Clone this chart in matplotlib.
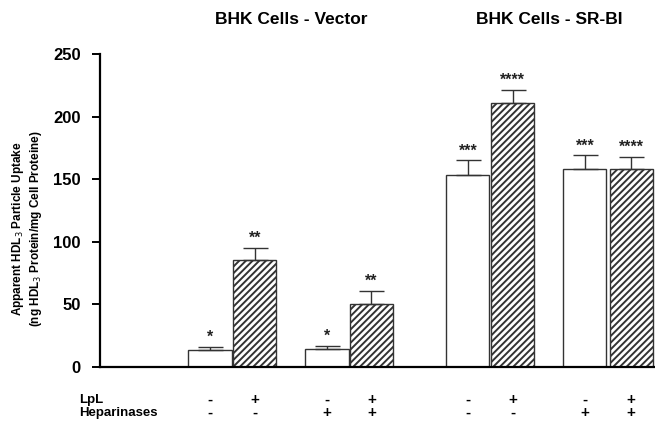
import matplotlib
matplotlib.use("Agg")
import matplotlib.pyplot as plt

plt.rcParams["font.family"] = ["Liberation Sans", "DejaVu Sans"]
plt.rcParams["hatch.linewidth"] = 1.4

# data
values = [13.5, 85.5, 14, 50, 153, 210.5, 158, 158]
errors = [2.5, 9.5, 3, 11, 12, 11, 11, 10]
stars = ["*", "**", "*", "**", "***", "****", "***", "****"]
lpl = ["-", "+", "-", "+", "-", "+", "-", "+"]
heparinases = ["-", "-", "+", "+", "-", "-", "+", "+"]
groups = ["BHK Cells - Vector", "BHK Cells - SR-BI"]

# layout
centers = [2.5, 3.52, 5.16, 6.17, 8.36, 9.38, 11.02, 12.07]
hatched = [False, True, False, True, False, True, False, True]

fig = plt.figure(figsize=(6.55, 4.25), dpi=100)
ax = fig.add_axes([100 / 655, 58 / 425, 555 / 655, 313 / 425])
ax.set_xlim(0, 555 / 44)
ax.set_ylim(0, 250)

for x, v, e, h, s in zip(centers, values, errors, hatched, stars):
    ax.bar(x, v, width=0.98, facecolor="white", edgecolor="#333333",
           linewidth=1.0, hatch="/////" if h else None, zorder=2)
    ax.errorbar(x, v, yerr=[[0], [e]], fmt="none", ecolor="#333333",
                elinewidth=1.0, capsize=9, capthick=1.0, zorder=3)
    ax.text(x, v + e + 1.5, s, ha="center", va="bottom", fontsize=11.5,
            fontweight="bold", color="#222222")

ax.spines["top"].set_visible(False)
ax.spines["right"].set_visible(False)
ax.spines["left"].set_linewidth(1.6)
ax.spines["bottom"].set_linewidth(1.6)
ax.set_xticks([])
ax.set_yticks([0, 50, 100, 150, 200, 250])
ax.tick_params(axis="y", direction="out", length=6, width=1.4, pad=8,
               labelsize=12)
for lab in ax.get_yticklabels():
    lab.set_fontweight("bold")

fig.text(27 / 655, 1 - 229 / 425,
         "Apparent HDL$_3$ Particle Uptake\n(ng HDL$_3$ Protein/mg Cell Proteine)",
         rotation=90, ha="center", va="center", fontsize=8.5, fontweight="bold",
         linespacing=1.15)

ax.text(291 / 655, 1 - 20 / 425, groups[0], transform=fig.transFigure,
        ha="center", va="center", fontsize=12.5, fontweight="bold")
ax.text(549 / 655, 1 - 20 / 425, groups[1], transform=fig.transFigure,
        ha="center", va="center", fontsize=12.5, fontweight="bold")

fig.text(79 / 655, 1 - 400 / 425, "LpL", ha="left", va="center", fontsize=9.5,
         fontweight="bold")
fig.text(79 / 655, 1 - 413 / 425, "Heparinases", ha="left", va="center",
         fontsize=9.5, fontweight="bold")
for x, a, b in zip(centers, lpl, heparinases):
    xf = fig.transFigure.inverted().transform(ax.transData.transform((x, 0)))[0]
    fig.text(xf, 1 - 400 / 425, a, ha="center", va="center", fontsize=11,
             fontweight="bold")
    fig.text(xf, 1 - 413 / 425, b, ha="center", va="center", fontsize=11,
             fontweight="bold")

fig.savefig("out.png", dpi=100, facecolor="white")
